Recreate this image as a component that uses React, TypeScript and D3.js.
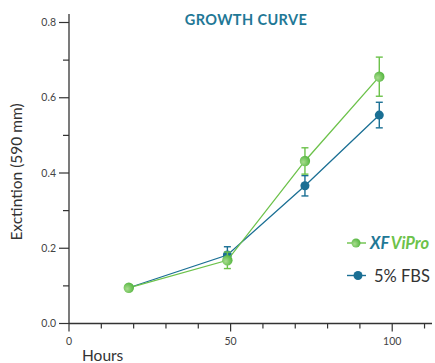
import React, { useEffect, useRef } from 'react'
import * as d3 from 'd3'

const hours = [18.5, 49, 73, 96]
const viproValues = [0.095, 0.168, 0.432, 0.656]
const viproErrors = [0.004, 0.022, 0.035, 0.052]
const fbsValues = [0.095, 0.182, 0.366, 0.554]
const fbsErrors = [0.004, 0.022, 0.027, 0.034]
const yTicks = [0, 0.2, 0.4, 0.6, 0.8]
const xLabelTicks = [0, 50, 100]

const GREEN = '#6cc24a'
const BLUE = '#1a6f94'
const TEAL = '#1f7896'

const width = 435
const height = 363

export default function App() {
    const svgRef = useRef<SVGSVGElement | null>(null)

    useEffect(() => {
        const svg = d3.select(svgRef.current)
        svg.selectAll('*').remove()

        const x = d3.scaleLinear().domain([0, 112]).range([69, 431])
        const y = d3.scaleLinear().domain([0, 0.8]).range([323.5, 22.5])

        const defs = svg.append('defs')
        const grad = defs.append('radialGradient').attr('id', 'gdot').attr('cx', '35%').attr('cy', '60%').attr('r', '70%')
        grad.append('stop').attr('offset', '0%').attr('stop-color', '#a8dc8e')
        grad.append('stop').attr('offset', '100%').attr('stop-color', '#4fb33a')

        // axes
        const axisColor = '#333'
        svg.append('line').attr('x1', x(0)).attr('x2', x(0)).attr('y1', 14).attr('y2', y(0))
            .attr('stroke', axisColor).attr('stroke-width', 1.3)
        svg.append('line').attr('x1', x(0)).attr('x2', 432).attr('y1', y(0)).attr('y2', y(0))
            .attr('stroke', axisColor).attr('stroke-width', 1.3)

        // y ticks (major + minor)
        d3.range(0, 0.81, 0.1).forEach((v, i) => {
            const major = i % 2 === 0
            svg.append('line').attr('x1', x(0) - (major ? 10 : 6)).attr('x2', x(0))
                .attr('y1', y(v)).attr('y2', y(v)).attr('stroke', axisColor).attr('stroke-width', 1.2)
        })
        svg.append('g').selectAll('text').data(yTicks).join('text')
            .attr('x', 56).attr('y', d => y(d) + 3.7)
            .attr('text-anchor', 'end').attr('font-size', 10.5).attr('fill', '#444')
            .text(d => d.toFixed(1))

        // x ticks
        d3.range(0, 111, 10).forEach(v => {
            const major = v % 50 === 0
            svg.append('line').attr('x1', x(v)).attr('x2', x(v))
                .attr('y1', y(0)).attr('y2', y(0) + (major ? 8 : 5)).attr('stroke', axisColor).attr('stroke-width', 1.2)
        })
        svg.append('g').selectAll('text').data(xLabelTicks).join('text')
            .attr('x', d => x(d)).attr('y', 345)
            .attr('text-anchor', 'middle').attr('font-size', 10.5).attr('fill', '#444')
            .text(d => d)

        svg.append('text').attr('x', 82).attr('y', 361).attr('font-size', 15.5).attr('fill', '#333').text('Hours')
        svg.append('text').attr('transform', 'translate(22,172) rotate(-90)')
            .attr('text-anchor', 'middle').attr('font-size', 15.5).attr('fill', '#333').text('Exctintion (590 mm)')

        svg.append('text').attr('x', 246).attr('y', 25).attr('text-anchor', 'middle')
            .attr('font-size', 14.5).attr('font-weight', 700).attr('letter-spacing', 0.4).attr('fill', TEAL).text('GROWTH CURVE')

        const line = d3.line<number>().x((_, i) => x(hours[i])).y(d => y(d))

        const drawSeries = (vals: number[], errs: number[], color: string, fill: string, r: number) => {
            const g = svg.append('g')
            g.append('path').attr('d', line(vals)).attr('fill', 'none').attr('stroke', color).attr('stroke-width', 1.3)
            vals.forEach((v, i) => {
                const cx = x(hours[i])
                g.append('line').attr('x1', cx).attr('x2', cx).attr('y1', y(v + errs[i])).attr('y2', y(v - errs[i]))
                    .attr('stroke', color).attr('stroke-width', 1.4)
                ;[v + errs[i], v - errs[i]].forEach(e => {
                    g.append('line').attr('x1', cx - 3.5).attr('x2', cx + 3.5).attr('y1', y(e)).attr('y2', y(e))
                        .attr('stroke', color).attr('stroke-width', 1.4)
                })
                g.append('circle').attr('cx', cx).attr('cy', y(v)).attr('r', r).attr('fill', fill)
            })
        }
        drawSeries(fbsValues, fbsErrors, BLUE, BLUE, 4.5)
        drawSeries(viproValues, viproErrors, GREEN, 'url(#gdot)', 5.2)

        // legend
        const leg = svg.append('g')
        leg.append('line').attr('x1', 347).attr('x2', 366).attr('y1', 243).attr('y2', 243).attr('stroke', GREEN).attr('stroke-width', 1.4)
        leg.append('circle').attr('cx', 356).attr('cy', 243).attr('r', 4.5).attr('fill', 'url(#gdot)')
        const t = leg.append('text').attr('x', 370).attr('y', 249).attr('font-size', 16.5).attr('font-weight', 700).attr('font-style', 'italic')
        t.append('tspan').attr('fill', TEAL).text('XF')
        t.append('tspan').attr('fill', GREEN).attr('dx', 1.5).text('ViPro')
        leg.append('line').attr('x1', 347).attr('x2', 366).attr('y1', 275.5).attr('y2', 275.5).attr('stroke', BLUE).attr('stroke-width', 1.4)
        leg.append('circle').attr('cx', 358).attr('cy', 275.5).attr('r', 4.5).attr('fill', BLUE)
        leg.append('text').attr('x', 374).attr('y', 281.5).attr('font-size', 16.5).attr('fill', '#333').text('5% FBS')
    }, [])

    return (
        <svg ref={svgRef} width={width} height={height}
            style={{ position: 'absolute', left: 0, top: 0, fontFamily: 'Lato, sans-serif', background: '#fff' }} />
    )
}
